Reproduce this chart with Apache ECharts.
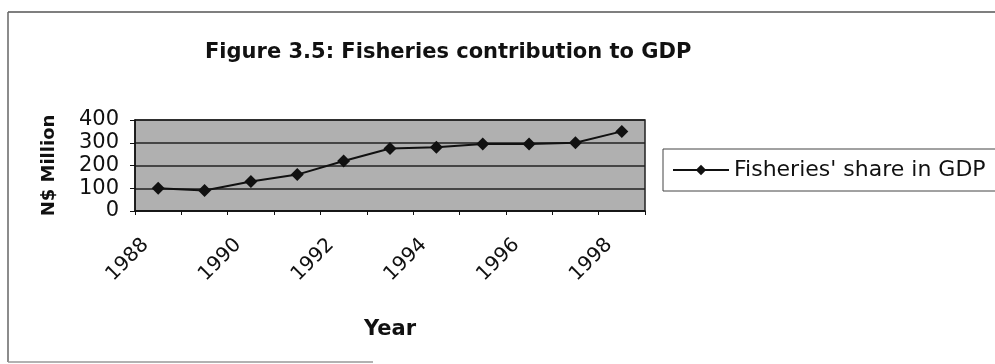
<!DOCTYPE html>
<html>
<head>
<meta charset="utf-8">
<script src="https://cdn.jsdelivr.net/npm/echarts@6/dist/echarts.min.js"></script>
<style>
  html, body { margin: 0; padding: 0; background: #fff; }
  #chart { width: 995px; height: 364px; }
</style>
</head>
<body>
<div id="chart"></div>
<script>
// Fisheries share in GDP, N$ million, 1988-1998
const years = ['1988','1989','1990','1991','1992','1993','1994','1995','1996','1997','1998'];
const fisheriesGdp = [100, 90, 130, 160, 220, 275, 280, 295, 295, 300, 350];
const yMin = 0, yMax = 400, yStep = 100;

const FONT = 'DejaVu Sans';
const chart = echarts.init(document.getElementById('chart'));

chart.setOption({
  animation: false,
  backgroundColor: '#ffffff',
  title: {
    text: 'Figure 3.5: Fisheries contribution to GDP',
    left: 205,
    top: 42,
    padding: 0,
    textStyle: { fontFamily: FONT, fontWeight: 'bold', fontSize: 21, color: '#111' }
  },
  legend: {
    left: 663,
    top: 149,
    orient: 'horizontal',
    padding: [9, 30, 9, 9],
    borderColor: '#444',
    borderWidth: 1,
    itemWidth: 56,
    itemHeight: 13,
    textStyle: { fontFamily: FONT, fontSize: 22, color: '#111', lineHeight: 24 },
    data: ["Fisheries' share in GDP"]
  },
  grid: {
    left: 135,
    right: 350,
    top: 120,
    bottom: 153,
    show: true,
    backgroundColor: '#b0b0b0',
    borderColor: '#222',
    borderWidth: 1.5
  },
  graphic: [
    { type: 'line', shape: { x1: 8, y1: 12, x2: 995, y2: 12 }, style: { stroke: '#555', lineWidth: 1.5 } },
    { type: 'line', shape: { x1: 8, y1: 12, x2: 8, y2: 362 }, style: { stroke: '#666', lineWidth: 1.5 } },
    { type: 'line', shape: { x1: 8, y1: 362, x2: 373, y2: 362 }, style: { stroke: '#999', lineWidth: 1.5 } }
  ],
  xAxis: {
    type: 'category',
    data: years,
    boundaryGap: true,
    name: 'Year',
    nameLocation: 'middle',
    nameGap: 108,
    nameTextStyle: { fontFamily: FONT, fontWeight: 'bold', fontSize: 21, color: '#111' },
    axisLine: { show: true, lineStyle: { color: '#111', width: 1.5 } },
    axisTick: { show: true, interval: 0, length: 4, lineStyle: { color: '#111' } },
    axisLabel: {
      interval: 1,
      rotate: 45,
      margin: 18,
      padding: [0, 18, 0, 0],
      fontFamily: FONT,
      fontSize: 20,
      color: '#111'
    },
    splitLine: { show: false }
  },
  yAxis: {
    type: 'value',
    min: yMin,
    max: yMax,
    interval: yStep,
    name: 'N$ Million',
    nameLocation: 'middle',
    nameRotate: 90,
    nameGap: 77,
    nameTextStyle: { fontFamily: FONT, fontWeight: 'bold', fontSize: 18, color: '#111' },
    axisLine: { show: true, lineStyle: { color: '#111', width: 1.5 } },
    axisTick: { show: true, length: 5, lineStyle: { color: '#111' } },
    axisLabel: { margin: 16, fontFamily: FONT, fontSize: 21, color: '#111' },
    splitLine: { show: true, lineStyle: { color: '#222', width: 1.5 } }
  },
  series: [{
    name: "Fisheries' share in GDP",
    type: 'line',
    data: fisheriesGdp,
    symbol: 'diamond',
    symbolSize: 13,
    lineStyle: { color: '#111', width: 2 },
    itemStyle: { color: '#111' }
  }]
});
</script>
</body>
</html>
